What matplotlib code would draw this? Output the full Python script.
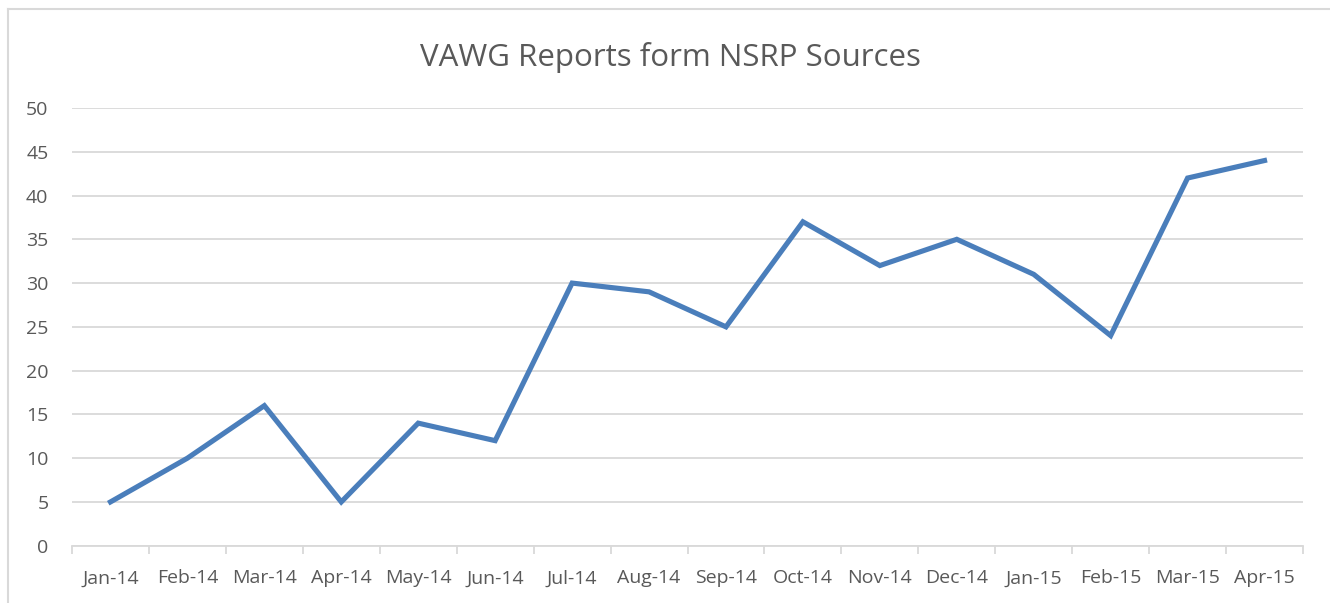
import matplotlib.pyplot as plt
from matplotlib.lines import Line2D

# Dados do gráfico
meses = ['Jan-14', 'Feb-14', 'Mar-14', 'Apr-14', 'May-14', 'Jun-14', 'Jul-14', 'Aug-14',
         'Sep-14', 'Oct-14', 'Nov-14', 'Dec-14', 'Jan-15', 'Feb-15', 'Mar-15', 'Apr-15']
relatorios = [5, 10, 16, 5, 14, 12, 30, 29, 25, 37, 32, 35, 31, 24, 42, 44]
y_ticks = list(range(0, 51, 5))

plt.rcParams['font.family'] = ['Open Sans', 'DejaVu Sans']

cor_texto = '#595959'
cor_grade = '#D9D9D9'

fig = plt.figure(figsize=(13.3, 6.03), dpi=100)
ax = fig.add_axes([72 / 1330, 57.3 / 603, (1303 - 72) / 1330, (545.7 - 108) / 603])

x = list(range(len(meses)))
ax.plot(x, relatorios, color='#4A7EBB', linewidth=3.7, solid_joinstyle='miter', zorder=3)

ax.set_xlim(-0.5, len(meses) - 0.5)
ax.set_ylim(0, 50)
ax.set_yticks(y_ticks)
ax.set_xticks(x)
ax.set_xticklabels(meses)
ax.set_xticks([i - 0.5 for i in range(len(meses) + 1)], minor=True)

# Grade horizontal
ax.grid(axis='y', color=cor_grade, linewidth=1.3, zorder=0)
for s in ['top', 'right', 'left']:
    ax.spines[s].set_visible(False)
ax.spines['bottom'].set_color(cor_grade)
ax.spines['bottom'].set_linewidth(1.3)

ax.tick_params(axis='y', length=0, pad=17, labelsize=14, labelcolor=cor_texto)
ax.tick_params(axis='x', which='major', length=0, pad=17, labelsize=14, labelcolor=cor_texto)
ax.tick_params(axis='x', which='minor', length=5.5, width=1.3, color=cor_grade)

fig.text(0.504, 0.905, 'VAWG Reports form NSRP Sources', ha='center', va='center',
         fontsize=22.5, color=cor_texto)

# Borda do gráfico (cortada à direita e embaixo)
fig.add_artist(Line2D([8 / 1330, 8 / 1330], [0, 1 - 9 / 603], color=cor_grade, linewidth=1.5))
fig.add_artist(Line2D([8 / 1330, 1], [1 - 9 / 603, 1 - 9 / 603], color=cor_grade, linewidth=1.5))

fig.savefig('out.png', dpi=100)
